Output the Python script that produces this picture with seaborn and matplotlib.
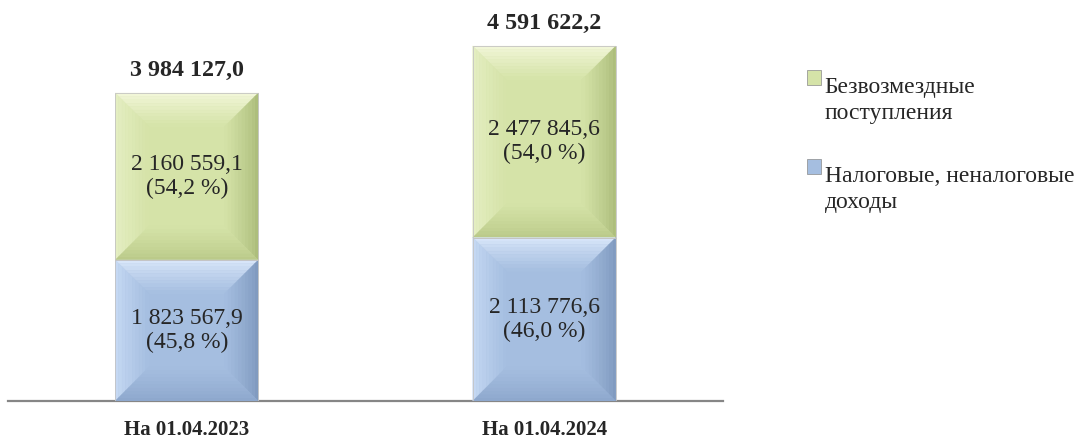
import numpy as np
import pandas as pd
import seaborn as sns
import matplotlib.pyplot as plt
from matplotlib.colors import to_rgb
from matplotlib.patches import Polygon, Rectangle
from matplotlib.legend_handler import HandlerPatch

# -------- DATA --------
dates = ["На 01.04.2023", "На 01.04.2024"]
tax_income = [1823567.9, 2113776.6]        # Налоговые, неналоговые доходы
gratuitous = [2160559.1, 2477845.6]        # Безвозмездные поступления
series_names = ["Безвозмездные\nпоступления", "Налоговые, неналоговые\nдоходы"]

green = "#d5e3a8"
blue = "#a5bee0"
green_bevel = ["#f4f8dc", "#e6efc4", "#a9ba78", "#b8c887"]   # top, left, right, bottom
blue_bevel = ["#dce9fb", "#c8dbf5", "#7d97bd", "#8ca6cb"]


def fmt(v):
    s = f"{v:,.1f}"
    return s.replace(",", " ").replace(".", ",")


def mix(c1, c2, t):
    a, b = np.array(to_rgb(c1)), np.array(to_rgb(c2))
    return tuple(a + (b - a) * t)


df = pd.DataFrame({"date": dates, "tax": tax_income, "grat": gratuitous})
df["total"] = df["tax"] + df["grat"]

# -------- STYLE --------
sns.set_style("white")
plt.rcParams["font.family"] = ["Liberation Serif", "DejaVu Serif"]

fig = plt.figure(figsize=(10.86, 4.41), dpi=100)
ax = fig.add_axes([8 / 1086, 40 / 441, 715 / 1086, 1 - 54.5 / 441])

# stacked bars: total (green) behind, tax income (blue) in front
sns.barplot(data=df, x="date", y="total", color=green, width=0.4,
            saturation=1, ax=ax, linewidth=0)
sns.barplot(data=df, x="date", y="tax", color=blue, width=0.4,
            saturation=1, ax=ax, linewidth=0)

ax.set_xlim(-0.5, 1.5)
ax.set_ylim(0, 5.0e6)

# -------- BEVEL EFFECT --------
fig.canvas.draw()
inv = ax.transData.inverted()
px = 34  # bevel size in pixels
p0 = inv.transform((0, 0))
p1 = inv.transform((px, px))
bx, by = p1 - p0
steps = 10

patches = list(ax.patches)
n = len(dates)
for i, p in enumerate(patches):
    x0, y0 = p.get_x(), p.get_y()
    w, h = p.get_width(), p.get_height()
    if i < n:
        # green part sits above the blue part
        y0 = tax_income[i]
        h = gratuitous[i]
        p.set_visible(False)
        ax.add_patch(Rectangle((x0, y0), w, h, facecolor=green, edgecolor="none", zorder=2))
        cols, face = green_bevel, green
    else:
        cols, face = blue_bevel, blue
    x1, y1 = x0 + w, y0 + h
    ix0, ix1 = x0 + bx, x1 - bx
    iy0, iy1 = y0 + by, y1 - by
    sides = [
        ((x0, y1), (x1, y1), (ix0, iy1), (ix1, iy1)),   # top
        ((x0, y0), (x0, y1), (ix0, iy0), (ix0, iy1)),   # left
        ((x1, y0), (x1, y1), (ix1, iy0), (ix1, iy1)),   # right
        ((x0, y0), (x1, y0), (ix0, iy0), (ix1, iy0)),   # bottom
    ]
    for (a, b, ai, bi), c in zip(sides, cols):
        a, b, ai, bi = map(np.array, (a, b, ai, bi))
        for k in range(steps):
            t0, t1 = k / steps, (k + 1) / steps
            poly = [a + (ai - a) * t0, b + (bi - b) * t0,
                    b + (bi - b) * t1, a + (ai - a) * t1]
            col = mix(c, face, ((k + 0.5) / steps) ** 0.8)
            ax.add_patch(Polygon(poly, closed=True, facecolor=col,
                                 edgecolor=col, linewidth=0.3, zorder=3))
    # thin outline
    ax.add_patch(Rectangle((x0, y0), w, h, facecolor="none",
                           edgecolor="#c4c4c4", linewidth=0.6, zorder=4))

# -------- LABELS --------
for i in range(n):
    t = df["total"][i]
    ax.text(i, tax_income[i] / 2,
            f"{fmt(tax_income[i])}\n({fmt(tax_income[i] / t * 100)} %)",
            ha="center", va="center", fontsize=17, zorder=5, linespacing=1.2)
    ax.text(i, tax_income[i] + gratuitous[i] / 2,
            f"{fmt(gratuitous[i])}\n({fmt(gratuitous[i] / t * 100)} %)",
            ha="center", va="center", fontsize=17, zorder=5, linespacing=1.2)
    ax.annotate(fmt(t), (i, t), xytext=(0, 12), textcoords="offset points",
                ha="center", va="baseline", fontsize=17.3, fontweight="bold",
                annotation_clip=False)

# -------- AXES --------
sns.despine(ax=ax, left=True, top=True, right=True)
ax.spines["bottom"].set_color("#868686")
ax.spines["bottom"].set_linewidth(1.6)
ax.set_yticks([])
ax.set_xlabel("")
ax.set_ylabel("")
ax.tick_params(axis="x", length=0, pad=14, labelsize=15)
for lbl in ax.get_xticklabels():
    lbl.set_fontweight("bold")


# -------- LEGEND --------
class TopHandler(HandlerPatch):
    def create_artists(self, legend, orig_handle, xdescent, ydescent,
                       width, height, fontsize, trans):
        r = Rectangle((-xdescent, -ydescent + fontsize * 0.95), width, height,
                      facecolor=orig_handle.get_facecolor(),
                      edgecolor="#8a8a8a", linewidth=0.5, transform=trans)
        return [r]


handles = [Rectangle((0, 0), 1, 1, facecolor=green),
           Rectangle((0, 0), 1, 1, facecolor=blue)]
leg = fig.legend(handles, series_names, loc="upper left",
                 bbox_to_anchor=(807 / 1086, 1 - 77 / 441), frameon=False,
                 fontsize=17, handlelength=0.6, handleheight=0.6,
                 handletextpad=0.15, labelspacing=1.8, borderaxespad=0,
                 borderpad=0, handler_map={Rectangle: TopHandler()})
for txt in leg.get_texts():
    txt.set_linespacing(1.3)

fig.savefig("out.png", dpi=100)
